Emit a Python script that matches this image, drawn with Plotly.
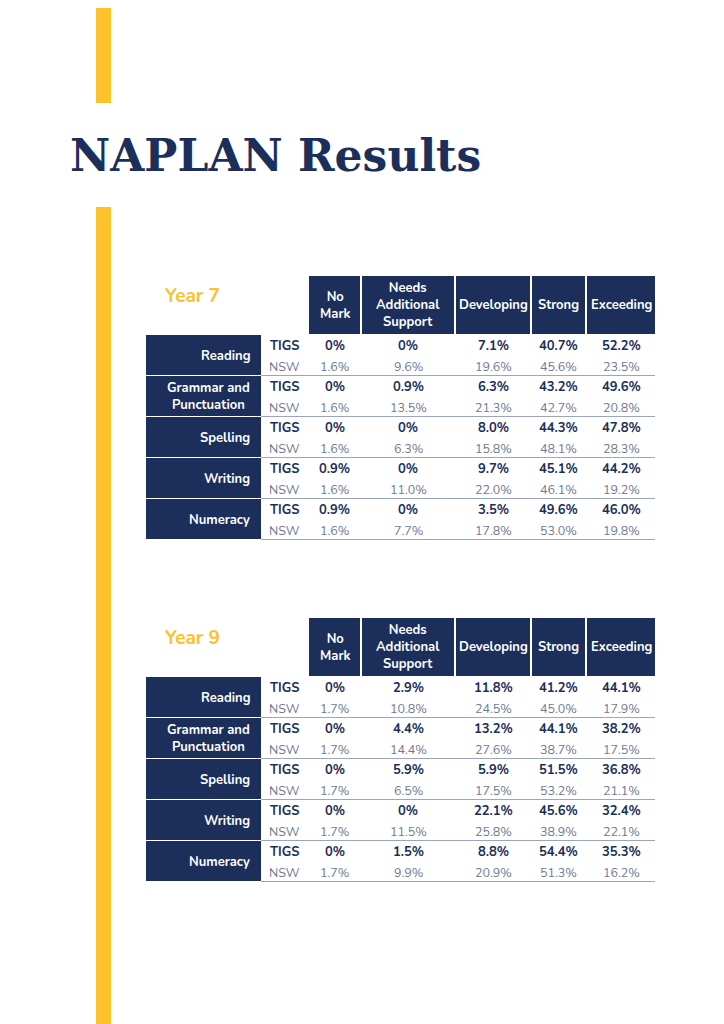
import plotly.graph_objects as go

columns = ["No<br>Mark", "Needs<br>Additional<br>Support", "Developing", "Strong", "Exceeding"]
subjects = ["Reading", "Grammar and<br>Punctuation", "Spelling", "Writing", "Numeracy"]
y7_tigs = [["0%", "0%", "7.1%", "40.7%", "52.2%"],
           ["0%", "0.9%", "6.3%", "43.2%", "49.6%"],
           ["0%", "0%", "8.0%", "44.3%", "47.8%"],
           ["0.9%", "0%", "9.7%", "45.1%", "44.2%"],
           ["0.9%", "0%", "3.5%", "49.6%", "46.0%"]]
y7_nsw = [["1.6%", "9.6%", "19.6%", "45.6%", "23.5%"],
          ["1.6%", "13.5%", "21.3%", "42.7%", "20.8%"],
          ["1.6%", "6.3%", "15.8%", "48.1%", "28.3%"],
          ["1.6%", "11.0%", "22.0%", "46.1%", "19.2%"],
          ["1.6%", "7.7%", "17.8%", "53.0%", "19.8%"]]
y9_tigs = [["0%", "2.9%", "11.8%", "41.2%", "44.1%"],
           ["0%", "4.4%", "13.2%", "44.1%", "38.2%"],
           ["0%", "5.9%", "5.9%", "51.5%", "36.8%"],
           ["0%", "0%", "22.1%", "45.6%", "32.4%"],
           ["0%", "1.5%", "8.8%", "54.4%", "35.3%"]]
y9_nsw = [["1.7%", "10.8%", "24.5%", "45.0%", "17.9%"],
          ["1.7%", "14.4%", "27.6%", "38.7%", "17.5%"],
          ["1.7%", "6.5%", "17.5%", "53.2%", "21.1%"],
          ["1.7%", "11.5%", "25.8%", "38.9%", "22.1%"],
          ["1.7%", "9.9%", "20.9%", "51.3%", "16.2%"]]

NAVY = "#1c2f5a"
YEL = "#fdc12b"
GREY = "#6f7a90"
FONT = "Nunito, Lato, sans-serif"
col_edges = [(309, 360), (362, 454), (456, 530), (532, 585), (587, 655)]

fig = go.Figure()
shapes, ann = [], []

def rect(x0, y0, x1, y1, c):
    shapes.append(dict(type="rect", x0=x0, x1=x1, y0=y0, y1=y1, fillcolor=c, line_width=0, layer="below"))

def text(x, y, t, size, color, bold=False, anchor="center", family=FONT):
    ann.append(dict(x=x, y=y, text=f"<b>{t}</b>" if bold else t, showarrow=False, xanchor=anchor,
                    yanchor="middle", font=dict(size=size, color=color, family=family)))

rect(96, 0, 111, 103, YEL)
rect(96, 207, 111, 1040, YEL)
text(68, 155, "NAPLAN Results", 44, NAVY, True, "left", "DejaVu Serif")

def table(label, top, tigs, nsw):
    text(163, top + 20, label, 19, YEL, True, "left")
    for (x0, x1), c in zip(col_edges, columns):
        rect(x0, top, x1, top + 58, NAVY)
        text((x0 + x1) / 2, top + 29, c, 13, "white", True)
    y = top + 59
    h = 41
    for i, s in enumerate(subjects):
        rect(146, y, 261, y + h - 1, NAVY)
        text(252, y + h / 2, s, 13, "white", True, "right")
        text(284, y + 11, "TIGS", 13, NAVY, True)
        text(284, y + 31, "NSW", 12.5, GREY)
        for j, (x0, x1) in enumerate(col_edges):
            text((x0 + x1) / 2, y + 11, tigs[i][j], 13, NAVY, True)
            text((x0 + x1) / 2, y + 31, nsw[i][j], 12.5, GREY)
        shapes.append(dict(type="line", x0=261, x1=655, y0=y + h - 0.5, y1=y + h - 0.5,
                           line=dict(color="#9aa6c0", width=1.2)))
        y += h

table("Year 7", 276, y7_tigs, y7_nsw)
table("Year 9", 618, y9_tigs, y9_nsw)

# page body has an 8px offset; shift axis ranges so reference coordinates land on screen pixels
fig.update_layout(width=724, height=1024, margin=dict(l=0, r=0, t=0, b=0),
                  paper_bgcolor="white", plot_bgcolor="white", shapes=shapes, annotations=ann,
                  xaxis=dict(range=[8, 732], visible=False, fixedrange=True),
                  yaxis=dict(range=[1032, 8], visible=False, fixedrange=True), showlegend=False)
fig.write_html("out.html")
